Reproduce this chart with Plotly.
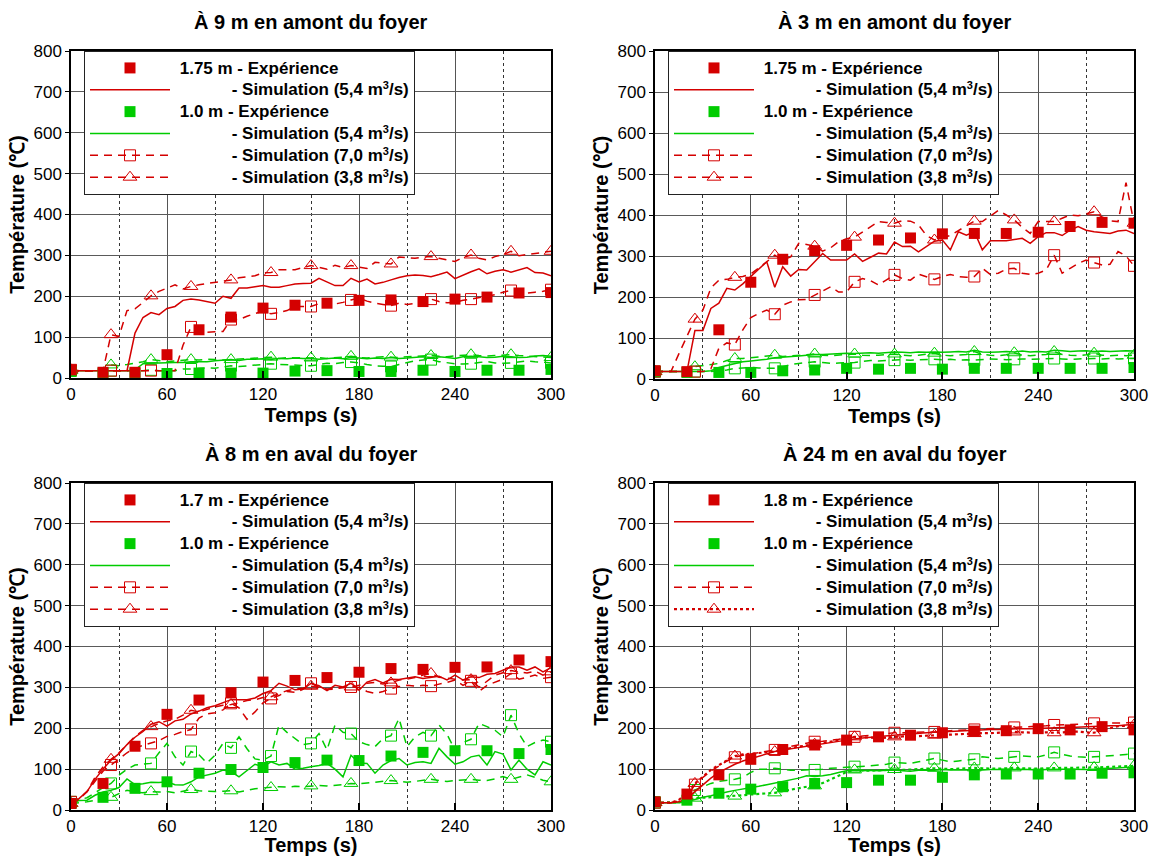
import plotly.graph_objects as go

# ---------------- data ----------------
T_SIM = list(range(0, 301, 5))      # simulation time grid (s)
T_EXP = list(range(0, 301, 20))     # experiment time grid (s)
MARK_EVERY = 25                      # symbols on simulation curves every 25 s

TITLES = ["À 9 m en amont du foyer", "À 3 m en amont du foyer",
          "À 8 m en aval du foyer", "À 24 m en aval du foyer"]
HIGH_LABELS = ["1.75 m", "1.75 m", "1.7 m", "1.8 m"]
LOW_LABEL = "1.0 m"
FLOWS = ["5,4", "7,0", "3,8"]
X_TICKS = [0, 60, 120, 180, 240, 300]
X_MINOR = [30, 90, 150, 210, 270]
Y_TICKS = list(range(0, 801, 100))

# Panel 1 : 9 m upstream
P1_EXP_HI = [20, 14, 14, 57, 118, 149, 171, 178, 183, 190, 191, 187, 193, 198, 208, 209]
P1_EXP_LO = [16, 12, 12, 11, 12, 12, 12, 17, 18, 16, 16, 19, 16, 19, 19, 21]
P1_S54_HI = [18, 18, 18, 18, 18, 18, 18, 18, 110, 148,
             160, 155, 170, 175, 190, 193, 191, 187, 183, 200,
             195, 220, 220, 223, 226, 222, 222, 226, 230, 231,
             232, 244, 234, 226, 226, 244, 235, 242, 230, 234,
             240, 246, 250, 252, 251, 248, 253, 259, 243, 252,
             260, 267, 255, 261, 265, 259, 264, 270, 258, 257,
             250]
P1_S70_HI = [20, 18, 18, 18, 18, 18, 18, 18, 18, 18,
             18, 18, 18, 18, 80, 125, 118, 112, 113, 114,
             143, 143, 151, 158, 163, 157, 160, 165, 175, 175,
             175, 182, 187, 181, 185, 191, 196, 188, 183, 180,
             177, 183, 180, 182, 188, 193, 187, 184, 185, 190,
             193, 197, 201, 204, 210, 214, 210, 208, 210, 212,
             216]
P1_S38_HI = [20, 18, 18, 18, 18, 106, 102, 165, 169, 185,
             201, 212, 220, 228, 218, 224, 228, 231, 234, 236,
             240, 245, 248, 250, 257, 258, 265, 265, 265, 270,
             275, 271, 266, 276, 270, 275, 272, 268, 283, 281,
             279, 296, 295, 293, 296, 297, 293, 289, 285, 295,
             301, 293, 289, 297, 302, 310, 299, 302, 305, 308,
             310]
P1_S54_LO = [18, 18, 18, 18, 18, 18, 18, 18, 20, 35,
             36, 37, 37, 38, 38, 40, 40, 40, 42, 44,
             45, 43, 46, 46, 47, 45, 48, 47, 49, 48,
             48, 46, 48, 49, 47, 50, 49, 47, 49, 48,
             50, 48, 49, 51, 52, 50, 52, 50, 48, 52,
             53, 52, 50, 51, 53, 52, 50, 51, 54, 55,
             53]
P1_S70_LO = [18, 18, 18, 18, 18, 18, 18, 18, 18, 18,
             20, 18, 18, 18, 22, 22, 24, 25, 24, 27,
             30, 28, 30, 32, 34, 35, 33, 32, 31, 30,
             30, 33, 36, 35, 38, 39, 37, 33, 30, 29,
             28, 33, 38, 42, 44, 45, 40, 37, 35, 34,
             35, 38, 40, 37, 36, 37, 40, 42, 40, 38,
             37]
P1_S38_LO = [18, 18, 18, 18, 18, 32, 30, 33, 36, 40,
             45, 42, 40, 42, 44, 45, 44, 46, 45, 44,
             45, 46, 47, 48, 49, 51, 48, 50, 49, 50,
             49, 50, 48, 49, 51, 53, 50, 49, 50, 52,
             51, 50, 52, 53, 54, 55, 53, 52, 54, 56,
             57, 55, 54, 55, 56, 57, 55, 54, 53, 52,
             50]

# Panel 2 : 3 m upstream
P2_EXP_HI = [20, 18, 120, 236, 292, 313, 326, 339, 344, 354, 355, 355, 358, 372, 382, 380]
P2_EXP_LO = [18, 16, 16, 16, 20, 22, 26, 24, 26, 24, 26, 26, 26, 26, 26, 28]
P2_S54_HI = [18, 18, 18, 18, 18, 118, 118, 172, 185, 221,
             217, 232, 250, 268, 286, 224, 274, 251, 267, 266,
             286, 306, 290, 290, 290, 305, 287, 297, 307, 305,
             334, 323, 324, 310, 323, 336, 339, 315, 359, 351,
             359, 315, 337, 337, 337, 340, 343, 331, 347, 357,
             357, 350, 363, 372, 363, 359, 357, 355, 361, 363,
             355]
P2_S70_HI = [18, 18, 18, 18, 18, 18, 18, 25, 75, 88,
             84, 120, 150, 160, 168, 158, 180, 188, 193, 194,
             205, 215, 225, 212, 212, 237, 245, 240, 229, 242,
             254, 245, 241, 256, 250, 243, 250, 255, 250, 248,
             250, 270, 255, 258, 268, 270, 258, 255, 258, 266,
             302, 258, 270, 282, 290, 284, 278, 280, 311, 300,
             276]
P2_S38_HI = [18, 18, 18, 62, 105, 146, 168, 222, 241, 243,
             248, 250, 256, 270, 286, 302, 290, 298, 331, 328,
             324, 312, 320, 335, 342, 346, 358, 370, 384, 382,
             380, 386, 385, 376, 350, 339, 345, 350, 362, 374,
             385, 384, 398, 411, 400, 388, 370, 355, 384, 384,
             384, 392, 400, 398, 403, 408, 395, 386, 384, 479,
             380]
P2_S54_LO = [18, 18, 18, 18, 18, 18, 18, 20, 28, 33,
             38, 42, 44, 46, 48, 52, 53, 55, 56, 58,
             60, 60, 61, 62, 63, 62, 63, 64, 63, 64,
             66, 65, 64, 66, 65, 66, 65, 66, 67, 66,
             70, 66, 65, 66, 67, 66, 68, 66, 67, 66,
             70, 69, 67, 68, 69, 67, 68, 67, 68, 69,
             68]
P2_S70_LO = [18, 18, 18, 18, 18, 18, 18, 18, 20, 22,
             26, 27, 28, 27, 26, 26, 30, 35, 38, 40,
             42, 40, 38, 39, 40, 40, 43, 45, 44, 45,
             46, 47, 46, 47, 48, 48, 47, 48, 46, 47,
             46, 48, 49, 48, 47, 48, 49, 48, 49, 50,
             50, 49, 48, 49, 50, 50, 49, 50, 49, 50,
             50]
P2_S38_LO = [18, 18, 18, 18, 18, 30, 33, 35, 38, 45,
             50, 50, 52, 54, 56, 58, 55, 56, 58, 59,
             61, 58, 57, 58, 59, 61, 58, 57, 58, 59,
             61, 58, 57, 58, 60, 63, 58, 57, 58, 60,
             67, 60, 58, 57, 59, 64, 58, 57, 58, 60,
             67, 60, 58, 57, 59, 63, 58, 57, 58, 57,
             58]

# Panel 3 : 8 m downstream
P3_EXP_HI = [16, 65, 156, 234, 269, 287, 313, 317, 324, 337, 346, 344, 349, 350, 367, 363]
P3_EXP_LO = [16, 31, 53, 69, 90, 99, 104, 116, 122, 121, 132, 141, 145, 145, 138, 148]
P3_S54_HI = [16, 28, 45, 75, 100, 122, 138, 160, 178, 192,
             210, 216, 205, 218, 222, 235, 242, 250, 255, 262,
             270, 270, 270, 274, 285, 292, 310, 303, 294, 296,
             310, 304, 292, 305, 301, 310, 293, 313, 319, 311,
             320, 319, 322, 326, 322, 324, 327, 318, 330, 318,
             326, 324, 332, 334, 342, 350, 350, 342, 350, 338,
             348]
P3_S70_HI = [20, 28, 45, 70, 95, 110, 125, 140, 152, 158,
             163, 170, 180, 185, 192, 197, 225, 235, 238, 245,
             261, 250, 222, 240, 262, 273, 280, 290, 288, 295,
             310, 300, 295, 296, 300, 301, 300, 290, 285, 290,
             297, 302, 305, 303, 305, 303, 308, 312, 318, 305,
             316, 290, 305, 312, 320, 334, 320, 325, 330, 322,
             325]
P3_S38_HI = [16, 25, 45, 80, 105, 124, 140, 160, 180, 195,
             204, 212, 218, 222, 232, 244, 240, 246, 252, 256,
             258, 262, 268, 270, 275, 277, 285, 292, 296, 298,
             303, 300, 296, 298, 300, 301, 305, 310, 312, 308,
             311, 318, 320, 324, 330, 334, 325, 322, 320, 318,
             319, 300, 315, 330, 336, 341, 338, 335, 340, 330,
             338]
P3_S54_LO = [16, 23, 24, 36, 44, 48, 55, 76, 62, 64,
             68, 67, 69, 62, 61, 69, 81, 86, 90, 98,
             94, 81, 97, 112, 106, 118, 110, 114, 100, 102,
             106, 109, 114, 100, 81, 134, 115, 114, 90, 110,
             121, 126, 110, 116, 118, 114, 151, 130, 112, 118,
             130, 134, 110, 143, 137, 98, 122, 100, 86, 118,
             110]
P3_S70_LO = [20, 25, 30, 42, 55, 65, 85, 100, 110, 112,
             114, 140, 163, 130, 110, 143, 135, 115, 134, 163,
             152, 179, 150, 125, 122, 132, 208, 190, 175, 160,
             163, 187, 147, 208, 190, 187, 167, 160, 155, 175,
             182, 224, 155, 179, 190, 182, 208, 185, 147, 165,
             173, 212, 204, 195, 179, 232, 187, 155, 165, 171,
             167]
P3_S38_LO = [16, 18, 20, 24, 28, 31, 40, 48, 44, 42,
             45, 44, 45, 42, 46, 50, 47, 46, 45, 46,
             47, 44, 48, 52, 54, 55, 57, 56, 58, 57,
             59, 60, 59, 60, 62, 65, 64, 66, 68, 70,
             72, 70, 68, 70, 72, 75, 72, 70, 72, 74,
             75, 73, 72, 76, 82, 75, 80, 86, 80, 73,
             69]

# Panel 4 : 24 m downstream
P4_EXP_HI = [20, 39, 86, 124, 148, 159, 171, 179, 183, 189, 193, 194, 199, 196, 204, 196]
P4_EXP_LO = [20, 24, 41, 51, 57, 65, 67, 73, 73, 80, 86, 88, 88, 88, 90, 91]
P4_S54_HI = [18, 18, 18, 20, 28, 45, 62, 78, 92, 103,
             112, 120, 126, 132, 138, 143, 147, 150, 153, 157,
             160, 163, 166, 168, 171, 174, 176, 178, 180, 182,
             184, 185, 186, 188, 189, 190, 191, 192, 193, 194,
             196, 197, 197, 197, 198, 198, 199, 199, 200, 201,
             201, 202, 202, 203, 204, 205, 205, 206, 206, 208,
             210]
P4_S70_HI = [18, 18, 18, 22, 32, 62, 80, 95, 108, 120,
             129, 134, 137, 140, 144, 147, 152, 156, 160, 164,
             167, 168, 170, 173, 176, 179, 181, 183, 185, 187,
             189, 189, 190, 190, 191, 191, 193, 194, 195, 196,
             197, 198, 199, 200, 201, 202, 203, 203, 204, 206,
             208, 208, 209, 210, 211, 212, 212, 213, 213, 213,
             214]
P4_S38_HI = [18, 18, 18, 25, 40, 65, 82, 98, 110, 122,
             132, 136, 138, 140, 141, 143, 148, 152, 155, 158,
             161, 163, 166, 170, 175, 179, 178, 177, 176, 177,
             179, 180, 180, 181, 182, 183, 183, 184, 185, 186,
             187, 188, 188, 189, 190, 191, 190, 189, 189, 190,
             189, 190, 191, 192, 190, 189, 195, 200, 205, 206,
             208]
P4_S54_LO = [18, 18, 18, 18, 20, 26, 31, 35, 40, 44,
             48, 51, 55, 58, 62, 66, 70, 74, 78, 84,
             82, 84, 87, 92, 96, 97, 96, 97, 96, 97,
             98, 96, 95, 97, 98, 97, 99, 98, 98, 97,
             97, 98, 99, 99, 98, 99, 100, 99, 98, 99,
             100, 100, 100, 99, 99, 100, 101, 102, 104, 104,
             105]
P4_S70_LO = [18, 18, 18, 22, 30, 49, 58, 65, 70, 73,
             75, 80, 92, 100, 100, 102, 100, 97, 97, 98,
             98, 100, 102, 103, 104, 106, 107, 108, 110, 112,
             116, 115, 114, 118, 122, 126, 122, 118, 120, 122,
             124, 130, 128, 126, 128, 130, 132, 131, 130, 135,
             141, 136, 132, 130, 129, 130, 131, 132, 134, 136,
             138]
P4_S38_LO = [18, 18, 18, 19, 22, 29, 30, 31, 32, 33,
             34, 36, 38, 39, 40, 42, 46, 50, 54, 57,
             59, 66, 75, 85, 93, 98, 97, 96, 97, 98,
             99, 98, 99, 100, 101, 102, 101, 100, 101, 102,
             103, 102, 101, 101, 102, 103, 102, 101, 101, 102,
             103, 103, 103, 104, 104, 104, 105, 106, 107, 107,
             108]

# ---------------- style ----------------
W, H = 1153, 856
RED = "#d40000"
GREEN = "#00cc00"
FONT = "Liberation Sans, Arial, sans-serif"
NB = "\u00a0"

# plot areas in pixels: (left, right, top, bottom)
AREAS = [(71, 551, 51, 378), (655, 1134, 51, 379),
         (71, 551, 483, 810), (655, 1134, 483, 810)]

PANELS = [
    dict(exp_hi=P1_EXP_HI, exp_lo=P1_EXP_LO, s54_hi=P1_S54_HI, s70_hi=P1_S70_HI, s38_hi=P1_S38_HI,
         s54_lo=P1_S54_LO, s70_lo=P1_S70_LO, s38_lo=P1_S38_LO, dash38="dash"),
    dict(exp_hi=P2_EXP_HI, exp_lo=P2_EXP_LO, s54_hi=P2_S54_HI, s70_hi=P2_S70_HI, s38_hi=P2_S38_HI,
         s54_lo=P2_S54_LO, s70_lo=P2_S70_LO, s38_lo=P2_S38_LO, dash38="dash"),
    dict(exp_hi=P3_EXP_HI, exp_lo=P3_EXP_LO, s54_hi=P3_S54_HI, s70_hi=P3_S70_HI, s38_hi=P3_S38_HI,
         s54_lo=P3_S54_LO, s70_lo=P3_S70_LO, s38_lo=P3_S38_LO, dash38="dash"),
    dict(exp_hi=P4_EXP_HI, exp_lo=P4_EXP_LO, s54_hi=P4_S54_HI, s70_hi=P4_S70_HI, s38_hi=P4_S38_HI,
         s54_lo=P4_S54_LO, s70_lo=P4_S70_LO, s38_lo=P4_S38_LO, dash38="dot"),
]

DASH = "8px,6px"
SPAN = '<span style="font-size:17px">'


def exp_name(label):
    return SPAN + NB + label + " - Expérience</span>"


def sim_name(flow):
    return (SPAN + NB * 12 + "- Simulation (" + flow + " m</span>"
            + '<sup><span style="font-size:11px">3</span></sup>'
            + SPAN + "/s)</span>")


fig = go.Figure()
layout = dict(width=W, height=H, margin=dict(l=0, r=0, t=0, b=0),
              paper_bgcolor="white", plot_bgcolor="white", template="none",
              showlegend=True, annotations=[])

for i, (pan, area) in enumerate(zip(PANELS, AREAS)):
    n = "" if i == 0 else str(i + 1)
    xa, ya = "x" + n, "y" + n
    lg = "legend" + n
    l, r, t, b = area
    common = dict(xaxis=xa, yaxis=ya, legend=lg, hoverinfo="skip")

    def line_dash(kind):
        if kind == "dot":
            return dict(dash="dot", width=2.2)
        return dict(dash=DASH, width=1.5)

    mk_t = [tt for tt in T_SIM if tt % MARK_EVERY == 0]

    def sub(vals):
        return [v for tt, v in zip(T_SIM, vals) if tt % MARK_EVERY == 0]

    # green (1.0 m) simulation curves (no legend entries for 7,0 / 3,8)
    for key, sym, kind in (("s70_lo", "square-open", "dash"), ("s38_lo", "triangle-up-open", pan["dash38"])):
        fig.add_trace(go.Scatter(x=T_SIM, y=pan[key], mode="lines", showlegend=False,
                                 line=dict(color=GREEN, **line_dash(kind)), **common))
        fig.add_trace(go.Scatter(x=mk_t, y=sub(pan[key]), mode="markers", showlegend=False,
                                 marker=dict(symbol=sym, size=11 if "square" in sym else 12,
                                             color=GREEN, line=dict(width=1, color=GREEN)), **common))
    fig.add_trace(go.Scatter(x=T_SIM, y=pan["s54_lo"], mode="lines", name=sim_name(FLOWS[0]),
                             legendrank=4, line=dict(color=GREEN, width=1.5), **common))

    # red (high) simulation curves
    for key, sym, kind, flow, rank in (("s70_hi", "square-open", "dash", FLOWS[1], 5),
                                       ("s38_hi", "triangle-up-open", pan["dash38"], FLOWS[2], 6)):
        ld = line_dash(kind)
        mk = dict(symbol=sym, size=11 if "square" in sym else 12, color=RED, line=dict(width=1, color=RED))
        fig.add_trace(go.Scatter(x=T_SIM, y=pan[key], mode="lines", showlegend=False,
                                 line=dict(color=RED, **ld), **common))
        fig.add_trace(go.Scatter(x=mk_t, y=sub(pan[key]), mode="markers", showlegend=False,
                                 marker=mk, **common))
        # legend entry (line + symbol)
        fig.add_trace(go.Scatter(x=[None], y=[None], mode="lines+markers", name=sim_name(flow),
                                 legendrank=rank, line=dict(color=RED, **ld), marker=mk, **common))
    fig.add_trace(go.Scatter(x=T_SIM, y=pan["s54_hi"], mode="lines", name=sim_name(FLOWS[0]),
                             legendrank=2, line=dict(color=RED, width=1.5), **common))

    # experiments
    fig.add_trace(go.Scatter(x=T_EXP, y=pan["exp_lo"], mode="markers", name=exp_name(LOW_LABEL),
                             legendrank=3, marker=dict(symbol="square", size=11, color=GREEN), **common))
    fig.add_trace(go.Scatter(x=T_EXP, y=pan["exp_hi"], mode="markers", name=exp_name(HIGH_LABELS[i]),
                             legendrank=1, marker=dict(symbol="square", size=11, color=RED), **common))

    tickfont = dict(family=FONT, size=17, color="black")
    titlefont = dict(family=FONT, size=20, color="black", weight="bold")
    layout["xaxis" + n] = dict(
        domain=[l / W, r / W], anchor=ya, range=[0, 300], tickvals=X_TICKS,
        ticks="inside", ticklen=7, tickwidth=1.5, tickcolor="black",
        showline=True, mirror=True, linecolor="black", linewidth=1.5,
        showgrid=True, gridcolor="#555555", gridwidth=1, zeroline=False,
        minor=dict(tickvals=X_MINOR, showgrid=True, griddash="dot", gridcolor="#333333",
                   gridwidth=1, ticks=""),
        tickfont=tickfont, automargin=False,
        title=dict(text="Temps (s)", font=titlefont, standoff=0))
    layout["yaxis" + n] = dict(
        domain=[1 - b / H, 1 - t / H], anchor=xa, range=[0, 800], tickvals=Y_TICKS,
        ticks="outside", ticklen=4, tickwidth=1, tickcolor="black",
        showline=True, mirror=True, linecolor="black", linewidth=1.5,
        showgrid=True, gridcolor="#5a5a5a", gridwidth=1, zeroline=False,
        tickfont=tickfont, automargin=False,
        title=dict(text="Température (℃)", font=titlefont, standoff=3))
    layout[lg] = dict(
        x=(l + 13) / W, y=1 - t / H, xanchor="left", yanchor="top",
        bgcolor="white", bordercolor="#222222", borderwidth=1,
        font=dict(family=FONT, size=14.5, color="black", weight="bold"),
        itemwidth=80, tracegroupgap=0, traceorder="normal")
    layout["annotations"].append(dict(
        text="<b>" + TITLES[i] + "</b>", xref="paper", yref="paper",
        x=(l + r) / 2 / W, y=1 - (t - 29) / H, xanchor="center", yanchor="middle",
        showarrow=False, font=dict(family=FONT, size=20, color="black")))

fig.update_layout(**layout)
fig.write_html("out.html", config={"displayModeBar": False},
               post_script="document.body.style.margin='0px';")
